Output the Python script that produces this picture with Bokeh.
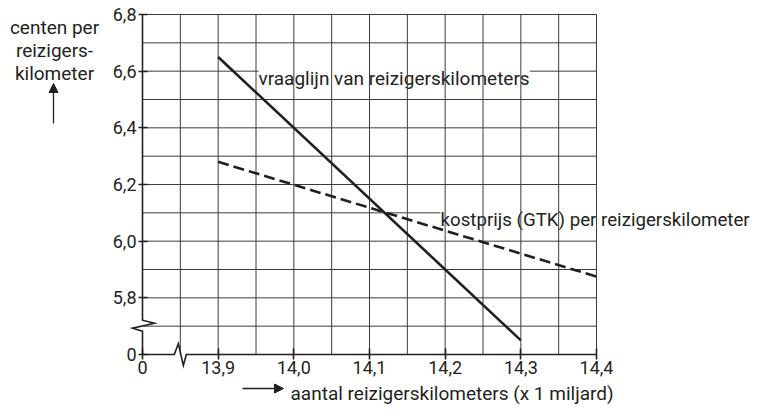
from bokeh.plotting import figure
from bokeh.models import Range1d, LinearAxis, FixedTicker, Label, Arrow, NormalHead
from bokeh.embed import file_html
from bokeh.resources import INLINE
import numpy as np

# ---- data ----
vraag_x = [13.9, 14.3]
vraag_y = [6.65, 5.65]
kost_x = [13.9, 14.4]
kost_y = [6.28, 5.875]
x_ticks = [13.8, 13.9, 14.0, 14.1, 14.2, 14.3, 14.4]
x_tick_labels = ["0", "13,9", "14,0", "14,1", "14,2", "14,3", "14,4"]
y_ticks = [5.6, 5.8, 6.0, 6.2, 6.4, 6.6, 6.8]
y_tick_labels = ["0", "5,8", "6,0", "6,2", "6,4", "6,6", "6,8"]
x_grid_step = 0.05
y_grid_step = 0.1
x_break = 13.85
y_break = 5.7

FONT = "Roboto"
INK = "#231f20"
GRID = "#3c3c3c"
TXT = "19px"

W, H = 752, 404
PL, PR, PT, PB = 142, 596, 14, 354   # plot area in picture pixels
X0, X1 = x_ticks[0], x_ticks[-1]
Y0, Y1 = y_ticks[0], y_ticks[-1]
sx = (X1 - X0) / (PR - PL)
sy = (Y1 - Y0) / (PB - PT)


def dx(px):
    return X0 + (px - PL) * sx


def dy(py):
    return Y0 + (PB - py) * sy


p = figure(width=W, height=H,
           x_range=Range1d(dx(0), dx(W)), y_range=Range1d(dy(H), dy(0)),
           output_backend="svg", toolbar_location=None,
           x_axis_type=None, y_axis_type=None, min_border=0)
p.min_border_left = p.min_border_right = p.min_border_top = p.min_border_bottom = 0
p.outline_line_color = None
p.background_fill_color = "white"
p.border_fill_color = "white"

# grid
gy = np.round(np.arange(y_break, Y1 + 1e-9, y_grid_step), 4)
r = p.segment(x0=[X0] * len(gy), y0=list(gy), x1=[X1] * len(gy), y1=list(gy),
              line_color=GRID, line_width=1)
r.level = "image"
gx = np.round(np.arange(x_break, X1 + 1e-9, x_grid_step), 4)
r = p.segment(x0=list(gx), y0=[Y0] * len(gx), x1=list(gx), y1=[Y1] * len(gx),
              line_color=GRID, line_width=1)
r.level = "glyph"

# annotations with white background (hide horizontal grid lines)
lab1 = Label(x=dx(258), y=dy(78), text="vraaglijn van reizigerskilometers",
             text_font=FONT, text_font_size=TXT, text_color=INK,
             text_baseline="alphabetic", background_fill_color="white", level="underlay")
lab2 = Label(x=dx(440), y=dy(219), text="kostprijs (GTK) per reizigerskilometer",
             text_font=FONT, text_font_size="18.7px", text_color=INK,
             text_baseline="alphabetic", background_fill_color="white", level="underlay")
p.add_layout(lab1)
p.add_layout(lab2)

# data lines
p.line(vraag_x, vraag_y, line_color=INK, line_width=2.6)
p.line(kost_x, kost_y, line_color=INK, line_width=2.6, line_dash="11 5")

# axis lines with breaks
left_x = [X0, X0, X0 + 12 * sx, X0 - 10 * sx, X0, X0]
left_y = [Y1, y_break + 6 * sy, y_break + 3 * sy, y_break - 2 * sy, y_break - 5 * sy, Y0]
p.line(left_x, left_y, line_color=INK, line_width=1.6, line_join="miter")
bot_x = [X0, x_break - 6 * sx, x_break - 2 * sx, x_break + 3 * sx, x_break + 6 * sx, X1]
bot_y = [Y0, Y0, Y0 + 11 * sy, Y0 - 11 * sy, Y0, Y0]
p.line(bot_x, bot_y, line_color=INK, line_width=1.6, line_join="miter")

# axes (ticks and labels)
xaxis = LinearAxis(fixed_location=Y0, ticker=FixedTicker(ticks=x_ticks),
                   major_label_overrides=dict(zip(x_ticks, x_tick_labels)))
yaxis = LinearAxis(fixed_location=X0, ticker=FixedTicker(ticks=y_ticks),
                   major_label_overrides=dict(zip(y_ticks, y_tick_labels)))
for ax in (xaxis, yaxis):
    ax.axis_line_color = None
    ax.major_tick_line_color = INK
    ax.major_tick_line_width = 1.6
    ax.minor_tick_line_color = None
    ax.major_label_text_font = FONT
    ax.major_label_text_font_size = "18px"
    ax.major_label_text_color = INK
xaxis.major_tick_in = 6
xaxis.major_tick_out = 5
xaxis.major_label_standoff = 1
yaxis.major_tick_in = 5
yaxis.major_tick_out = 4
yaxis.major_label_standoff = 2
p.add_layout(xaxis, "below")
p.add_layout(yaxis, "left")

# axis titles
for txt, base in (("centen per", 27), ("reizigers-", 50), ("kilometer", 73)):
    p.add_layout(Label(x=dx(54), y=dy(base), text=txt, text_align="center",
                       text_baseline="alphabetic", text_font=FONT,
                       text_font_size=TXT, text_color=INK))
p.add_layout(Arrow(end=NormalHead(size=9, fill_color=INK, line_color=INK, line_width=1),
                   x_start=dx(53), y_start=dy(123), x_end=dx(53), y_end=dy(83),
                   line_color=INK, line_width=1.3))
p.add_layout(Label(x=dx(290), y=dy(393), text="aantal reizigerskilometers (x 1 miljard)",
                   text_baseline="alphabetic", text_font=FONT,
                   text_font_size=TXT, text_color=INK))
p.add_layout(Arrow(end=NormalHead(size=9, fill_color=INK, line_color=INK, line_width=1),
                   x_start=dx(242), y_start=dy(388), x_end=dx(283), y_end=dy(388),
                   line_color=INK, line_width=1.3))

open("out.html", "w").write(file_html(p, INLINE))
